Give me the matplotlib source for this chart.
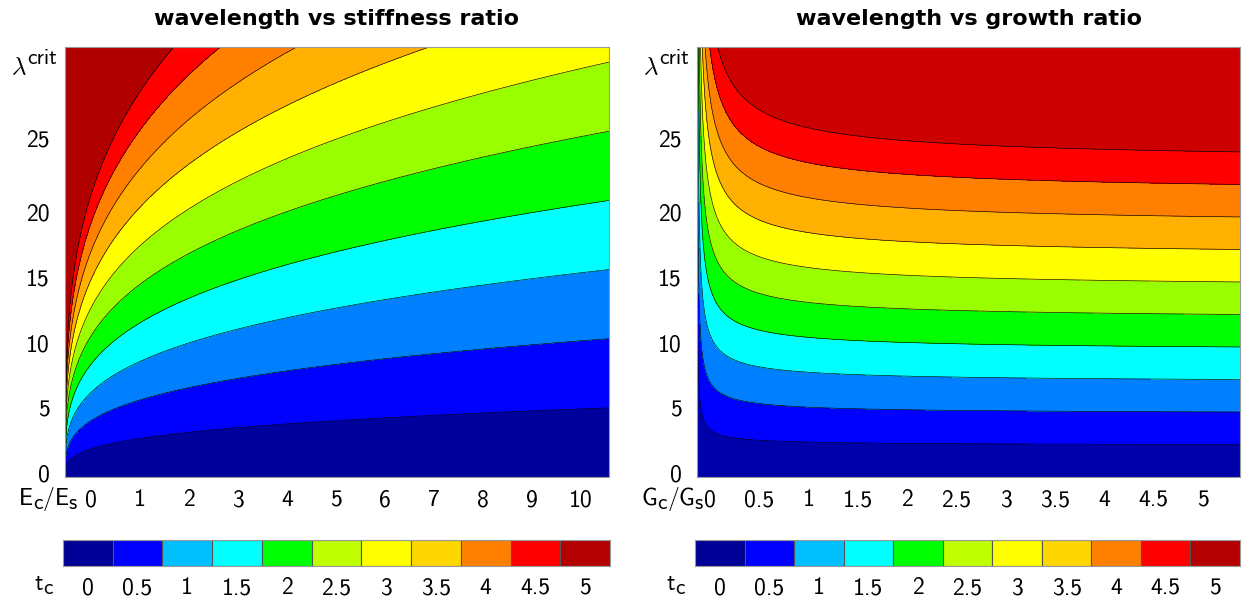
import numpy as np
import matplotlib
matplotlib.use("Agg")
import matplotlib.pyplot as plt

plt.rcParams["font.family"] = ["cmss10", "DejaVu Sans"]
plt.rcParams["mathtext.fontset"] = "custom"
plt.rcParams["mathtext.rm"] = "cmss10"
plt.rcParams["mathtext.it"] = "cmmi10"
plt.rcParams["axes.unicode_minus"] = False

# contour levels of the film thickness t_c
tc_levels = [0, 0.5, 1, 1.5, 2, 2.5, 3, 3.5, 4, 4.5, 5]
tc_labels = ["0", "0.5", "1", "1.5", "2", "2.5", "3", "3.5", "4", "4.5", "5"]

# band colours as seen in each panel and in the colour bars
left_colors = ["#00009c", "#0000ff", "#0080ff", "#00ffff", "#00ff00", "#99ff00",
               "#ffff00", "#ffb000", "#ff8000", "#ff0000", "#b00000"]
right_colors = ["#0000aa", "#0000ff", "#0080ff", "#00ffff", "#00ff00", "#99ff00",
                "#ffff00", "#ffb000", "#ff8000", "#ff0000", "#cc0000"]
bar_colors = ["#000096", "#0000ff", "#00bfff", "#00ffff", "#00ff00", "#c0ff00",
              "#ffff00", "#ffd700", "#ff8000", "#ff0000", "#b40000"]

# axis ranges and tick labels
stiff_max = 11.1
growth_max = 5.51
lambda_max = 32.95
stiff_ticks = [0, 1, 2, 3, 4, 5, 6, 7, 8, 9, 10]
growth_ticks = [0, 0.5, 1, 1.5, 2, 2.5, 3, 3.5, 4, 4.5, 5]
growth_tick_labels = ["0", "0.5", "1", "1.5", "2", "2.5", "3", "3.5", "4", "4.5", "5"]
lambda_ticks = [0, 5, 10, 15, 20, 25]

# wavelength per unit thickness, read off the contour boundaries
# stiffness panel: lambda / t_c = a * (E_c/E_s)^p
stiff_coef = 5.21
stiff_pow = 0.295
# growth panel: lambda / t_c = h_inf + b * (G_c/G_s)^-q
growth_inf = 4.8
growth_amp = 0.6
growth_pow = 0.7

fig = plt.figure(figsize=(12.58, 6.02), dpi=100)
renderer = fig.canvas.get_renderer()

W, H = 1258.0, 602.0
def box(x0, y0, x1, y1):
    return [x0 / W, 1 - y1 / H, (x1 - x0) / W, (y1 - y0) / H]

def chain(pieces, x_right, y):
    # draws text pieces one after another, right edge at x_right (pixels)
    made = []
    x = 0.0
    for s, size, dy, fam in pieces:
        t = fig.text(0, 0, s, fontsize=size, family=fam, va="baseline", ha="left")
        bb = t.get_window_extent(renderer)
        made.append((t, x, dy))
        x += bb.width
    x0 = x_right - x
    for t, off, dy in made:
        t.set_position(((x0 + off) / W, 1 - (y + dy) / H))

ax1 = fig.add_axes(box(65, 47, 609, 477))
ax2 = fig.add_axes(box(697, 47, 1240, 477))
cb1 = fig.add_axes(box(63, 540, 610, 566))
cb2 = fig.add_axes(box(695, 540, 1240, 566))

lev = tc_levels + [1e9]

# stiffness ratio panel
e = np.linspace(1e-6, stiff_max, 700)
lam = np.linspace(0, lambda_max, 600)
E, L = np.meshgrid(e, lam)
T1 = L / (stiff_coef * E ** stiff_pow)
T1 = np.clip(T1, 0, 1e8)
ax1.contourf(E, L, T1, levels=lev, colors=left_colors)
ax1.contour(E, L, T1, levels=tc_levels[1:], colors="k", linewidths=0.45)

# growth ratio panel
g = np.linspace(1e-4, growth_max, 900)
G, L2 = np.meshgrid(g, lam)
T2 = L2 / (growth_inf + growth_amp * G ** (-growth_pow))
T2 = np.clip(T2, 0, 1e8)
ax2.contourf(G, L2, T2, levels=lev, colors=right_colors)
ax2.contour(G, L2, T2, levels=tc_levels[1:], colors="k", linewidths=0.45)

fs = 17
for ax, xmax in [(ax1, stiff_max), (ax2, growth_max)]:
    ax.set_xlim(0, xmax)
    ax.set_ylim(0, lambda_max)
    # labels sit a little off the data grid in the original
    ax.set_yticks([v + 0.3 for v in lambda_ticks[:-1]] + [lambda_ticks[-1] + 0.95])
    ax.set_yticklabels([str(v) for v in lambda_ticks])
    ax.tick_params(length=0, labelsize=fs)
    ax.tick_params(axis="x", pad=9)
    ax.tick_params(axis="y", pad=11)
    for s in ax.spines.values():
        s.set_color("#999999")
        s.set_linewidth(0.8)

ax1.set_xticks([v + 0.53 for v in stiff_ticks])
ax1.set_xticklabels([str(v) for v in stiff_ticks])
ax2.set_xticks([v + 0.13 for v in growth_ticks])
ax2.set_xticklabels(growth_tick_labels)

ax1.set_title("wavelength vs stiffness ratio", fontsize=16, fontweight="bold",
              family=["DejaVu Sans"], pad=16)
ax2.set_title("wavelength vs growth ratio", fontsize=16, fontweight="bold",
              family=["DejaVu Sans"], pad=16)

# axis names drawn piece by piece so the sub/superscripts stay large
sub = 15.5
for xr in [57, 689]:
    chain([(r"$\lambda$", 18, 6, ["cmmi10"]), ("crit", sub, -4, ["cmss10"])], xr, 68)
chain([("E", fs, 0, ["cmss10"]), ("c", sub, 4, ["cmss10"]), ("/", fs, 0, ["cmss10"]),
       ("E", fs, 0, ["cmss10"]), ("s", sub, 4, ["cmss10"])], 77, 505)
chain([("G", fs, 0, ["cmss10"]), ("c", sub, 4, ["cmss10"]), ("/", fs, 0, ["cmss10"]),
       ("G", fs, 0, ["cmss10"]), ("s", sub, 4, ["cmss10"])], 703, 505)

# discrete colour bars
for cb in [cb1, cb2]:
    idx = np.arange(len(tc_levels))
    cb.bar(idx, np.ones(len(idx)), width=1.0, color=bar_colors,
           edgecolor="#555555", linewidth=0.8, align="center")
    cb.set_xlim(-0.5, len(idx) - 0.5)
    cb.set_ylim(0, 1)
    cb.set_yticks([])
    cb.set_xticks(idx)
    cb.set_xticklabels(tc_labels)
    cb.tick_params(length=0, labelsize=fs, pad=8)
    for s in cb.spines.values():
        s.set_color("#999999")
        s.set_linewidth(0.8)

chain([("t", fs, 0, ["cmss10"]), ("c", sub, 4, ["cmss10"])], 53, 590)
chain([("t", fs, 0, ["cmss10"]), ("c", sub, 4, ["cmss10"])], 685, 590)

fig.savefig("out.png", dpi=100)
